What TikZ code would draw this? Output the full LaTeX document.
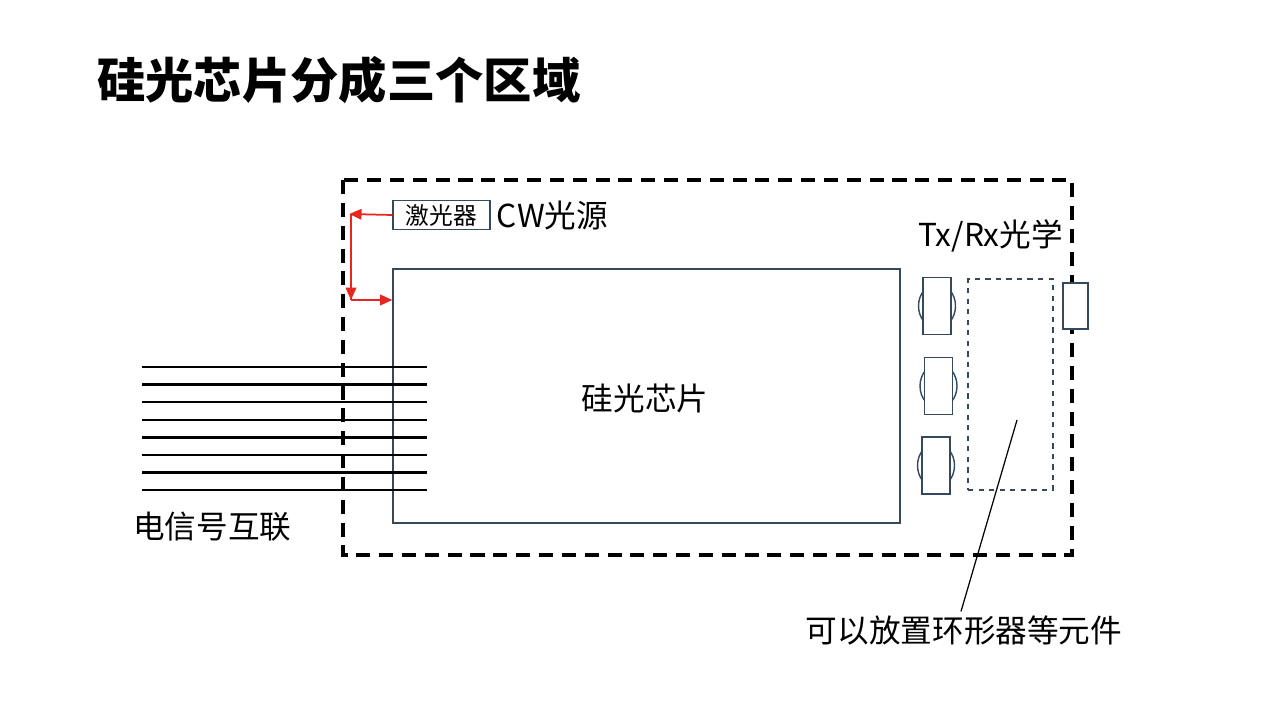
\documentclass[tikz,border=0pt]{standalone}
\usepackage{fontspec}
\setmainfont{Noto Sans CJK SC}
\newfontfamily\titlefont{Noto Sans CJK SC Black}
\usetikzlibrary{arrows.meta,positioning,calc}
\definecolor{chipline}{HTML}{34495E}
\definecolor{arrowred}{HTML}{E8251E}
\tikzset{
  outerbox/.style={draw,line width=2.1pt,dash pattern=on 8pt off 5pt},
  lensbox/.style={draw=chipline,fill=white,line width=0.8pt,minimum width=28*0.02cm,minimum height=57*0.02cm,inner sep=0pt},
  redarrow/.style={draw=arrowred,line width=1pt,-{Triangle[length=7pt,width=6pt]}},
  label/.style={font=\fontsize{18pt}{20pt}\selectfont,inner sep=0pt}
}
\begin{document}
\begin{tikzpicture}[x=0.02cm,y=-0.02cm]
    \useasboundingbox (0,0) rectangle (1280,719);

    \node[anchor=west,inner sep=0pt,font=\fontsize{27.5pt}{30pt}\titlefont] (title) at (97,80) {硅光芯片分成三个区域};

    \draw[outerbox] (343,180) rectangle (1072,555);
    \node[draw=chipline,line width=0.7pt,minimum width=507*0.02cm,minimum height=254*0.02cm,inner sep=0pt] (chip) at (646.5,396) {};
    \node[label] (chiptext) at (645,398) {硅光芯片};

    % laser
    \node[draw=chipline,line width=0.7pt,minimum width=97*0.02cm,minimum height=29*0.02cm,inner sep=0pt,font=\fontsize{13.5pt}{15pt}\selectfont] (laser) at (441.5,215) {激光器};
    \node[label,anchor=west,right=6 of laser.east] (cw) {CW光源};
    \coordinate (turn) at (351,214);
    \coordinate (corner) at (351,300);
    \draw[redarrow] (laser.west) -- ([xshift=-1pt]turn);
    \draw[draw=arrowred,line width=1pt] (turn) -- (corner);
    \draw[redarrow] ($(turn)+(0,10)$) -- (corner);
    \draw[redarrow] (corner) -- (chip.west |- corner);

    % electrical lines
    \foreach \i in {0,...,7}
        \draw[line width=1.4pt] (142,{367+17.6*\i}) -- (427,{367+17.6*\i});
    \node[label,anchor=west] (elec) at (133,527) {电信号互联};

    % Tx/Rx optics
    \node[label,anchor=west] (txrx) at (918,236) {Tx/Rx光学};
    \foreach \n/\x/\y in {1/937/306,2/938.5/386,3/936/465.5}{
        \draw[chipline,line width=0.8pt] (\x,\y) ellipse (18.5 and 22);
        \node[lensbox] (lens\n) at (\x,\y) {};
    }
    \node[draw=chipline,dashed,line width=0.7pt,minimum width=85*0.02cm,minimum height=211*0.02cm,inner sep=0pt] (slot) at (1010.5,384.5) {};
    \node[draw=chipline,fill=white,line width=0.8pt,minimum width=25*0.02cm,minimum height=46*0.02cm,inner sep=0pt] (fiber) at (1075.5,306) {};

    \node[label] (note) at (964,630) {可以放置环形器等元件};
    \coordinate (tip) at (1017,420);
    \draw[line width=0.7pt] (tip) -- ([yshift=2pt]note.north -| 961,0);
\end{tikzpicture}
\end{document}
